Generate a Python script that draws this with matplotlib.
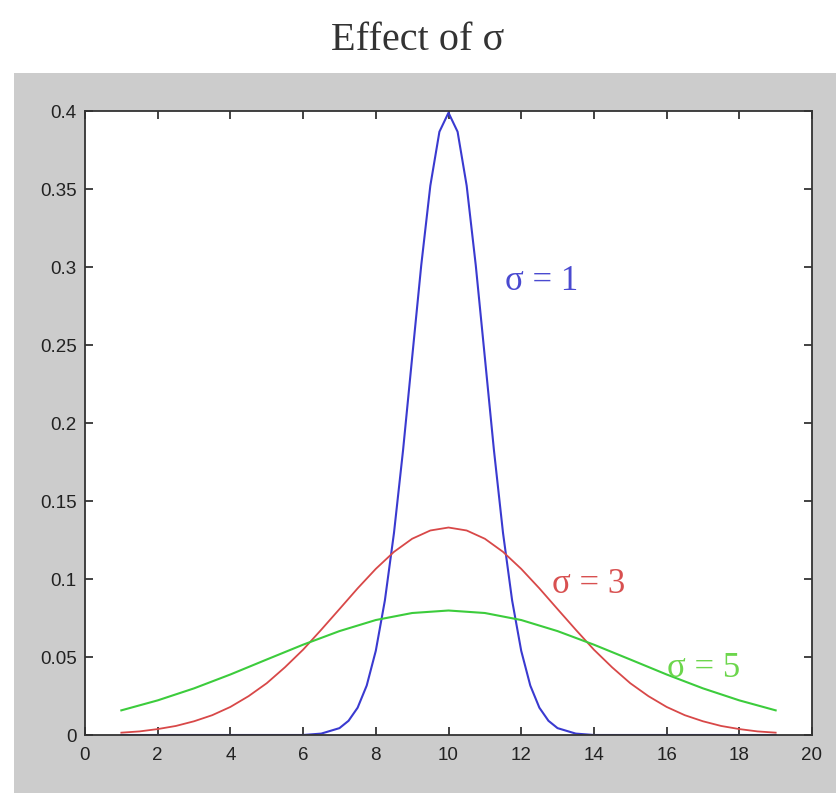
import matplotlib
matplotlib.use("Agg")
import matplotlib.pyplot as plt
from matplotlib.patches import Rectangle

# ---- data ----
x_s1 = [1, 2, 3, 4, 5, 6, 6.5, 7, 7.25, 7.5, 7.75, 8, 8.25, 8.5, 8.75, 9, 9.25, 9.5, 9.75,
        10, 10.25, 10.5, 10.75, 11, 11.25, 11.5, 11.75, 12, 12.25, 12.5, 12.75, 13, 13.5,
        14, 15, 16, 17, 18, 19]
y_s1 = [0, 0, 0, 0, 0, 0, 0.0009, 0.0044, 0.0091, 0.0175, 0.0317, 0.0540, 0.0863, 0.1295,
        0.1826, 0.2420, 0.3011, 0.3521, 0.3867, 0.3989, 0.3867, 0.3521, 0.3011, 0.2420,
        0.1826, 0.1295, 0.0863, 0.0540, 0.0317, 0.0175, 0.0091, 0.0044, 0.0009,
        0, 0, 0, 0, 0, 0]

x_s3 = [1, 1.5, 2, 2.5, 3, 3.5, 4, 4.5, 5, 5.5, 6, 6.5, 7, 7.5, 8, 8.5, 9, 9.5, 10,
        10.5, 11, 11.5, 12, 12.5, 13, 13.5, 14, 14.5, 15, 15.5, 16, 16.5, 17, 17.5, 18,
        18.5, 19]
y_s3 = [0.0015, 0.0023, 0.0038, 0.0058, 0.0088, 0.0127, 0.0180, 0.0249, 0.0332, 0.0434,
        0.0547, 0.0675, 0.0807, 0.0940, 0.1065, 0.1174, 0.1258, 0.1311, 0.1330,
        0.1311, 0.1258, 0.1174, 0.1065, 0.0940, 0.0807, 0.0675, 0.0547, 0.0434, 0.0332,
        0.0249, 0.0180, 0.0127, 0.0088, 0.0058, 0.0038, 0.0023, 0.0015]

x_s5 = [1, 2, 3, 4, 5, 6, 7, 8, 9, 10, 11, 12, 13, 14, 15, 16, 17, 18, 19]
y_s5 = [0.0158, 0.0222, 0.0299, 0.0388, 0.0484, 0.0579, 0.0666, 0.0737, 0.0782, 0.0798,
        0.0782, 0.0737, 0.0666, 0.0579, 0.0484, 0.0388, 0.0299, 0.0222, 0.0158]

x_ticks = [0, 2, 4, 6, 8, 10, 12, 14, 16, 18, 20]
y_ticks = [0, 0.05, 0.1, 0.15, 0.2, 0.25, 0.3, 0.35, 0.4]
y_ticklabels = ["0", "0.05", "0.1", "0.15", "0.2", "0.25", "0.3", "0.35", "0.4"]
title = "Effect of σ"
labels = ["σ = 1", "σ = 3", "σ = 5"]

W, H = 836, 799
fig = plt.figure(figsize=(W / 100, H / 100), dpi=100)
fig.patch.set_facecolor("white")

# gray MATLAB figure background
fig.patches.append(Rectangle((14 / W, 1 - 793 / H), (W - 14) / W, (793 - 73) / H,
                             transform=fig.transFigure, facecolor="#cccccc",
                             edgecolor="none", zorder=-5))

left, right, top, bottom = 85, 812, 111, 735
ax = fig.add_axes([left / W, 1 - bottom / H, (right - left) / W, (bottom - top) / H])
ax.set_zorder(2)
ax.set_facecolor("white")

ax.plot(x_s1, y_s1, color="#3a3ad0", lw=1.5)
ax.plot(x_s3, y_s3, color="#d84848", lw=1.3)
ax.plot(x_s5, y_s5, color="#3ccc3c", lw=1.5)

ax.set_xlim(0, 20)
ax.set_ylim(0, 0.4)
ax.set_xticks(x_ticks)
ax.set_yticks(y_ticks)
ax.set_yticklabels(y_ticklabels)
ax.tick_params(direction="in", top=True, right=True, length=6, width=1.2,
               labelsize=13.5, colors="#222222")
ax.tick_params(axis="x", pad=9)
ax.tick_params(axis="y", pad=6)
for lab in ax.get_xticklabels() + ax.get_yticklabels():
    lab.set_family("Liberation Sans")
for sp in ax.spines.values():
    sp.set_color("#333333")
    sp.set_linewidth(1.3)

serif = ["Liberation Serif", "DejaVu Serif"]
ax.text(11.55, 0.291, labels[0], color="#4a4ad0", fontsize=25, family=serif,
        va="center", ha="left")
ax.text(12.85, 0.0965, labels[1], color="#d85050", fontsize=25, family=serif,
        va="center", ha="left")
ax.text(16.0, 0.0425, labels[2], color="#6cd64c", fontsize=25, family=serif,
        va="center", ha="left")

fig.text(0.5, 1 - 40 / H, title, ha="center", va="center", fontsize=29,
         family=serif, color="#333333")

fig.savefig("out.png", dpi=100)
